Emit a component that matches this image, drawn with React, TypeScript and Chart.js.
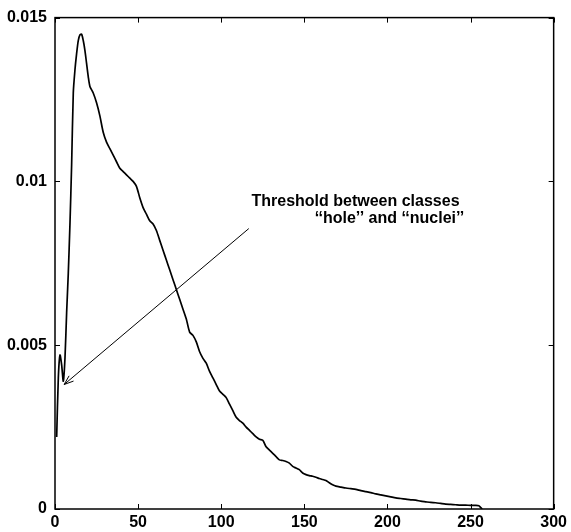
import React, { useEffect, useRef } from "react";
import { Chart, registerables } from "chart.js";

Chart.register(...registerables);

// Histogram-like curve (x = grey level, y = frequency)
const xs: number[] = [
  1, 2, 3, 4, 5, 6, 7, 8, 9, 10, 11, 12, 13, 14, 15, 16, 17, 18, 19, 20, 21, 23, 25, 27, 29, 31, 33, 35, 37, 39,
  41, 43, 45, 47, 49, 51, 53, 55, 57, 59, 61, 63, 65, 67, 69, 71, 73, 75, 77, 79, 81, 83, 85, 87, 89, 91, 93, 95,
  97, 99, 101, 103, 105, 107, 109, 111, 113, 115, 117, 119, 121, 123, 125, 127, 129, 131, 133, 135, 137, 139, 141,
  143, 145, 147, 149, 151, 153, 155, 157, 159, 161, 163, 165, 167, 169, 172, 175, 178, 181, 184, 187, 190, 193, 196,
  199, 202, 205, 208, 211, 214, 217, 220, 223, 226, 229, 232, 235, 238, 241, 244, 247, 250, 253, 255, 256, 257,
];
const ys: number[] = [
  0.0022, 0.004, 0.0047, 0.0044, 0.0039, 0.0046, 0.006, 0.0072, 0.0087, 0.0105, 0.0127, 0.0134, 0.0139, 0.0143,
  0.01447, 0.01449, 0.0143, 0.014, 0.0136, 0.0132, 0.0129, 0.0127, 0.0124, 0.012, 0.0115, 0.0112, 0.011, 0.0108,
  0.0106, 0.0104, 0.0103, 0.0102, 0.0101, 0.01, 0.00985, 0.0095, 0.0092, 0.009, 0.0088, 0.0087, 0.0085, 0.0082,
  0.0079, 0.0076, 0.0073, 0.007, 0.0067, 0.0064, 0.0061, 0.0058, 0.0054, 0.0053, 0.0051, 0.0048, 0.0046, 0.00445,
  0.0042, 0.004, 0.0038, 0.0036, 0.0035, 0.0034, 0.0032, 0.003, 0.0028, 0.0027, 0.00262, 0.0025, 0.0024, 0.0023,
  0.0022, 0.00213, 0.0021, 0.0019, 0.0018, 0.0017, 0.0016, 0.0015, 0.00148, 0.00145, 0.0014, 0.0013, 0.00125,
  0.0012, 0.0011, 0.00105, 0.00102, 0.001, 0.00097, 0.00093, 0.0009, 0.00087, 0.0008, 0.00074, 0.0007, 0.00067,
  0.00064, 0.00062, 0.0006, 0.00056, 0.00053, 0.0005, 0.00046, 0.00043, 0.0004, 0.00037, 0.00034, 0.00032, 0.0003,
  0.00028, 0.00027, 0.00024, 0.00022, 0.0002, 0.00019, 0.00017, 0.00015, 0.00014, 0.00013, 0.00012, 0.00012,
  0.00011, 0.00011, 0.0001, 0.00005, 0,
];

const xTicks: number[] = [0, 50, 100, 150, 200, 250, 300];
const yTicks: number[] = [0, 0.005, 0.01, 0.015];
const yTickLabels: string[] = ["0", "0.005", "0.01", "0.015"];

const annotationLines: string[] = ["Threshold between classes", "\u2018\u2018hole\u2019\u2019 and \u2018\u2018nuclei\u2019\u2019"];
const annotationLineX: number[] = [118.2, 156.2];
const annotationLineY: number[] = [0.00938, 0.00885];
const arrowFrom: number[] = [116.6, 0.00856];
const arrowTo: number[] = [5.5, 0.0038];

const FONT = "'Liberation Sans', Arial, Helvetica, sans-serif";

const framePlugin = {
  id: "frameTicksAnnot",
  afterDraw(chart: any) {
    const { ctx, chartArea, scales } = chart;
    const { left, right, top, bottom } = chartArea;
    const xs_ = scales.x;
    const ys_ = scales.y;
    ctx.save();
    ctx.strokeStyle = "#000";
    ctx.lineWidth = 1.5;
    ctx.strokeRect(left, top, right - left, bottom - top);
    ctx.lineWidth = 1;
    const tl = 5;
    ctx.beginPath();
    xTicks.forEach((v) => {
      const p = Math.round(xs_.getPixelForValue(v)) + 0.5;
      ctx.moveTo(p, bottom);
      ctx.lineTo(p, bottom - tl);
      ctx.moveTo(p, top);
      ctx.lineTo(p, top + tl);
    });
    yTicks.forEach((v) => {
      const p = Math.round(ys_.getPixelForValue(v)) + 0.5;
      ctx.moveTo(left, p);
      ctx.lineTo(left + tl, p);
      ctx.moveTo(right, p);
      ctx.lineTo(right - tl, p);
    });
    ctx.stroke();

    // arrow
    const x1 = xs_.getPixelForValue(arrowFrom[0]);
    const y1 = ys_.getPixelForValue(arrowFrom[1]);
    const x2 = xs_.getPixelForValue(arrowTo[0]);
    const y2 = ys_.getPixelForValue(arrowTo[1]);
    ctx.lineWidth = 1;
    ctx.beginPath();
    ctx.moveTo(x1, y1);
    ctx.lineTo(x2, y2);
    const ang = Math.atan2(y2 - y1, x2 - x1);
    const hl = 10;
    const ha = 0.35;
    ctx.moveTo(x2, y2);
    ctx.lineTo(x2 - hl * Math.cos(ang - ha), y2 - hl * Math.sin(ang - ha));
    ctx.moveTo(x2, y2);
    ctx.lineTo(x2 - hl * Math.cos(ang + ha), y2 - hl * Math.sin(ang + ha));
    ctx.stroke();

    // text
    ctx.fillStyle = "#000";
    ctx.font = `bold 16px ${FONT}`;
    ctx.textAlign = "left";
    ctx.textBaseline = "middle";
    annotationLines.forEach((t, i) => {
      ctx.fillText(t, xs_.getPixelForValue(annotationLineX[i]), ys_.getPixelForValue(annotationLineY[i]));
    });
    ctx.restore();
  },
};

export default function App() {
  const ref = useRef<HTMLCanvasElement | null>(null);
  useEffect(() => {
    document.body.style.margin = "0";
    const canvas = ref.current;
    if (!canvas) return;
    const chart = new Chart(canvas, {
      type: "line",
      data: {
        datasets: [
          {
            data: xs.map((x, i) => ({ x, y: ys[i] })),
            borderColor: "#000",
            borderWidth: 1.7,
            pointRadius: 0,
            tension: 0.25,
            fill: false,
          },
        ],
      },
      options: {
        animation: false,
        responsive: false,
        maintainAspectRatio: false,
        layout: { padding: { top: 16, right: 15, left: 0, bottom: 0 } },
        plugins: { legend: { display: false }, tooltip: { enabled: false } },
        scales: {
          x: {
            type: "linear",
            min: 0,
            max: 300,
            grid: { display: false, drawTicks: false },
            border: { display: false },
            afterBuildTicks: (s: any) => {
              s.ticks = xTicks.map((v) => ({ value: v }));
            },
            afterFit: (s: any) => {
              s.height = 23;
            },
            ticks: {
              color: "#000",
              padding: 4,
              maxRotation: 0,
              font: { family: FONT, size: 16, weight: "bold" },
              callback: (v: any) => String(v),
            },
          },
          y: {
            type: "linear",
            min: 0,
            max: 0.015,
            grid: { display: false, drawTicks: false },
            border: { display: false },
            afterBuildTicks: (s: any) => {
              s.ticks = yTicks.map((v) => ({ value: v }));
            },
            afterFit: (s: any) => {
              s.width = 55;
            },
            ticks: {
              color: "#000",
              padding: 8,
              font: { family: FONT, size: 16, weight: "bold" },
              callback: (v: any) => {
                const i = yTicks.findIndex((t) => Math.abs(t - Number(v)) < 1e-9);
                return i >= 0 ? yTickLabels[i] : "";
              },
            },
          },
        },
      },
      plugins: [framePlugin],
    });
    return () => chart.destroy();
  }, []);
  return (
    <div style={{ width: 571, height: 532, background: "#fff" }}>
      <canvas ref={ref} width={571} height={532} style={{ display: "block" }} />
    </div>
  );
}
